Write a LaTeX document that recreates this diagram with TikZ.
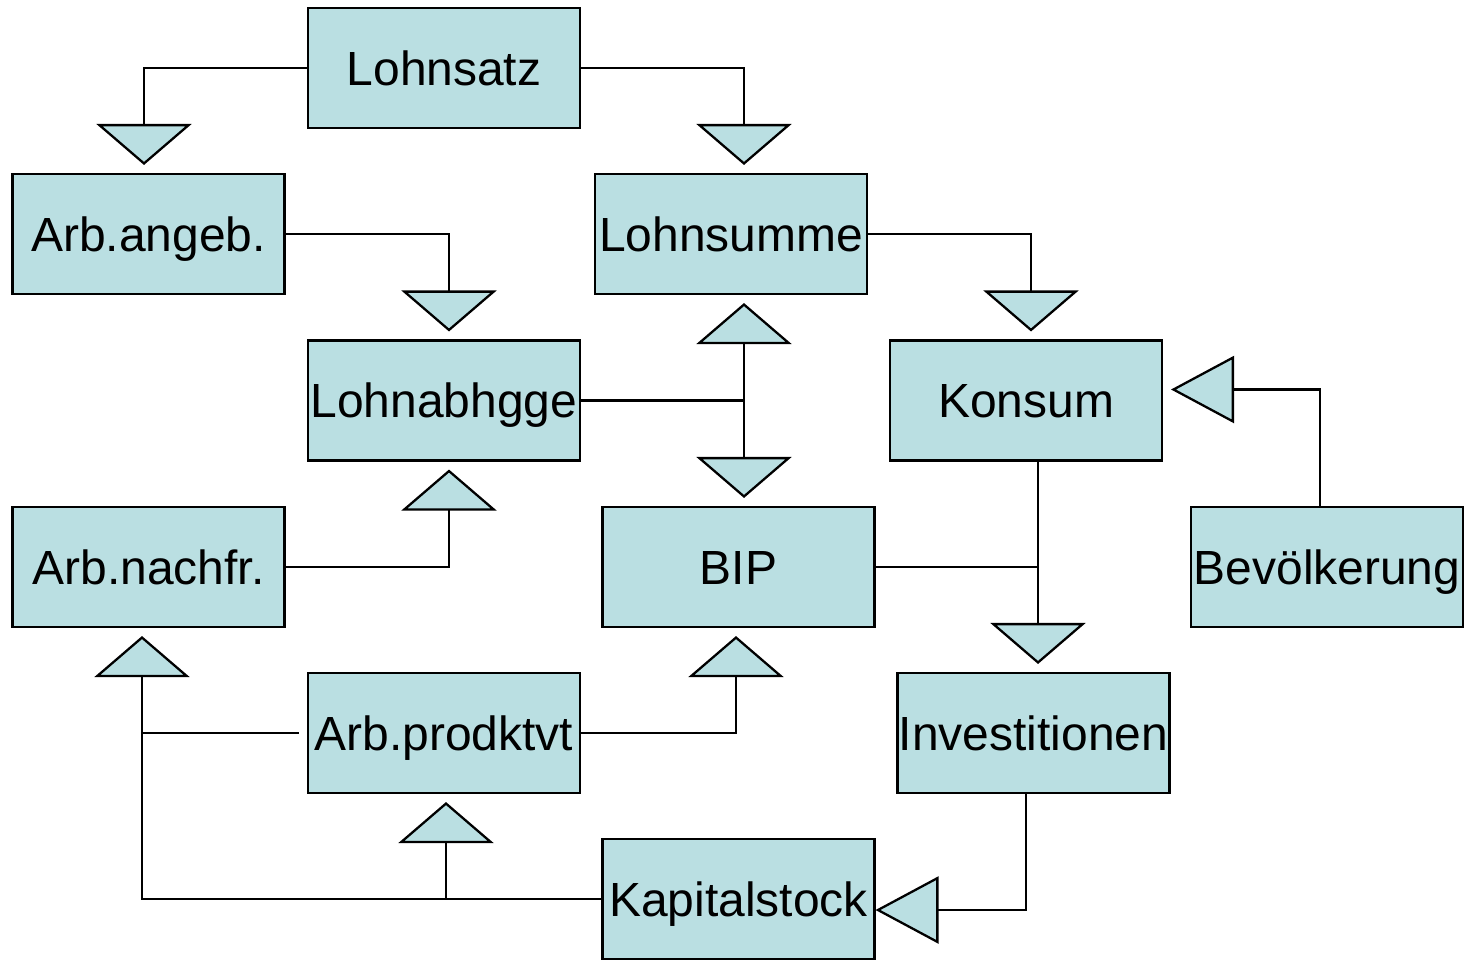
\documentclass[tikz,border=0pt]{standalone}
\usepackage{fontspec}
\setmainfont{Liberation Sans}
\usetikzlibrary{arrows.meta}
\definecolor{azzurro}{RGB}{186,223,226}

\begin{document}
\begin{tikzpicture}[x=0.02cm,y=-0.02cm,
        box/.style={draw, line width=1.2pt, fill=azzurro, minimum width=5.44cm, minimum height=2.4cm,
            inner sep=0pt, text height=0.68cm, text depth=0pt, font=\fontsize{27.3}{30}\selectfont},
        linea/.style={line width=1.3pt},
        frecciav/.style={linea, -{Triangle[width=1.9cm,length=0.82cm,fill=azzurro]}, shorten >=0.16cm},
        frecciao/.style={linea, -{Triangle[width=1.34cm,length=1.26cm,fill=azzurro]}, shorten >=0.16cm}]
        \useasboundingbox (0,0) rectangle (1471,961);

        % Disegna i riquadri
        \node[box] (lohnsatz) at (444,68) {Lohnsatz};
        \node[box] (arbangeb) at (148.5,234) {Arb.angeb.};
        \node[box] (lohnsumme) at (731,234) {Lohnsumme};
        \node[box] (lohnabhgge) at (444,400.5) {Lohnabhgge};
        \node[box] (konsum) at (1026,400.5) {Konsum};
        \node[box] (arbnachfr) at (148.5,567) {Arb.nachfr.};
        \node[box] (bip) at (738.5,567) {BIP};
        \node[box] (bevoelkerung) at (1327,567) {Bevölkerung};
        \node[box] (arbprodktvt) at (444,733) {Arb.prodktvt};
        \node[box] (investitionen) at (1033.5,733) {Investitionen};
        \node[box] (kapitalstock) at (738.5,899) {Kapitalstock};

        % Punti di giunzione
        \coordinate (giunto) at ([xshift=0.24cm]konsum.south);
        \coordinate (nodo) at ([xshift=-0.13cm]arbnachfr.south);

        % Frecce in alto
        \draw[frecciav] (lohnsatz.west) -| ([xshift=-0.09cm]arbangeb.north);
        \draw[frecciav] (lohnsatz.east) -| ([xshift=0.26cm]lohnsumme.north);
        \draw[frecciav] (arbangeb.east) -| ([xshift=0.1cm]lohnabhgge.north);
        \draw[frecciav] (lohnsumme.east) -| ([xshift=0.1cm]konsum.north);

        % Lohnabhgge verso Lohnsumme e BIP
        \draw[frecciav] (lohnabhgge.east) -| ([xshift=0.26cm]lohnsumme.south);
        \draw[frecciav] (lohnabhgge.east) -| ([xshift=0.11cm]bip.north);
        \draw[frecciav] (arbnachfr.east) -| ([xshift=0.1cm]lohnabhgge.south);
        \draw[frecciao] ([xshift=-0.14cm]bevoelkerung.north) |- ([yshift=0.22cm]konsum.east);

        % Konsum e BIP verso Investitionen
        \draw[frecciav] (giunto) -- (giunto |- investitionen.north);
        \draw[linea] (bip.east) -- (bip.east -| giunto);

        % Frecce in basso
        \draw[frecciav] (arbprodktvt.east) -| ([xshift=-0.05cm]bip.south);
        \draw[frecciav] (kapitalstock.west) -| (nodo);
        \draw[linea] ([xshift=-0.16cm]arbprodktvt.west) -- (arbprodktvt.west -| nodo);
        \draw[frecciav] (kapitalstock.west) -| ([xshift=0.04cm]arbprodktvt.south);
        \draw[frecciao, shorten >=0pt] ([xshift=-0.15cm]investitionen.south) |- ([yshift=-0.22cm]kapitalstock.east);
    \end{tikzpicture}
\end{document}
